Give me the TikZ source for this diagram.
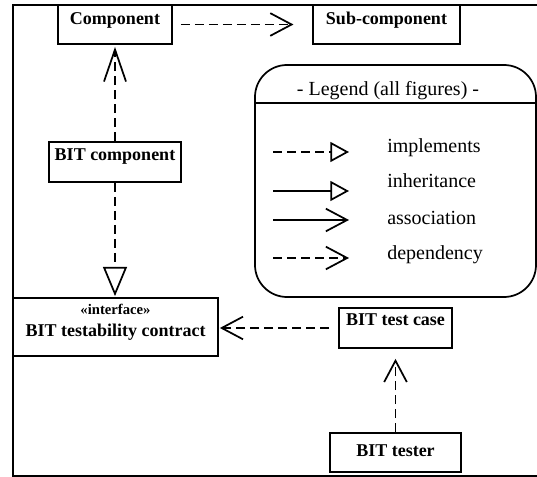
\documentclass[tikz,border=0pt]{standalone}
\usepackage{fontspec}
\setmainfont{Liberation Serif}
\usetikzlibrary{arrows.meta,fit}
\tikzset{
  box/.style={draw, line width=1.3pt, inner sep=0pt},
  boxtxt/.style={inner sep=0pt, anchor=base, font=\fontsize{13.5}{16}\selectfont\bfseries},
  stereo/.style={inner sep=0pt, anchor=base, font=\fontsize{11}{13}\selectfont\bfseries},
  legtxt/.style={inner sep=0pt, anchor=base west, font=\fontsize{15}{18}\selectfont},
  conn/.style={line width=1.3pt},
  dsh/.style={dash pattern=on 6.5pt off 4pt},
  dep/.style={conn, dsh, -{Straight Barb[length=16pt,width=17pt]}},
  impl/.style={conn, dsh, -{Triangle[open, fill=white, length=22pt, width=18pt]}},
  legdep/.style={conn, dsh, -{Straight Barb[length=16pt,width=17pt]}},
  legassoc/.style={conn, -{Straight Barb[length=16pt,width=17pt]}},
  legimpl/.style={conn, dsh, -{Triangle[open, fill=white, length=14pt, width=15pt]}},
  leginh/.style={conn, -{Triangle[open, fill=white, length=14pt, width=15pt]}},
}
\begin{document}
\begin{tikzpicture}[x=0.75pt, y=-0.75pt]
\useasboundingbox (0,0) rectangle (537,477);
% frame
\draw[line width=1.7pt] (537,5) -- (13,5) -- (13,476) -- (537,476);

% boxes
\node[box, fit={(58,5)(172,44)}] (comp) {};
\node[boxtxt] (compt) at (115,25) {Component};
\node[box, fit={(313,5)(460,44)}] (sub) {};
\node[boxtxt] (subt) at (386.5,25) {Sub-component};
\node[box, fit={(49,142)(181,182)}] (bitc) {};
\node[boxtxt] (bitct) at (115,161) {BIT component};
\node[box, fit={(13,298)(218,356)}] (contract) {};
\node[stereo] (contracts) at (115.5,315) {«interface»};
\node[boxtxt] (contractt) at (115.5,337) {BIT testability contract};
\node[box, fit={(339,308)(452,348)}] (tcase) {};
\node[boxtxt] (tcaset) at (395.5,326) {BIT test case};
\node[box, fit={(330,433)(461,472)}] (tester) {};
\node[boxtxt] (testert) at (395.5,457) {BIT tester};

% legend
\node[draw, line width=1.3pt, rounded corners=24pt, inner sep=0pt, fit={(255,65)(536,297)}] (legend) {};
\draw[line width=1.3pt] (legend.west |- 0,103) -- (legend.east |- 0,103);
\node[inner sep=0pt, anchor=base, font=\fontsize{15}{18}\selectfont] (legt) at (388,96) {- Legend (all figures) -};
\coordinate (l1a) at (273,152); \coordinate (l1b) at (349,152);
\coordinate (l2a) at (273,191); \coordinate (l2b) at (349,191);
\coordinate (l3a) at (273,220); \coordinate (l3b) at (349,220);
\coordinate (l4a) at (273,258); \coordinate (l4b) at (349,258);
\draw[legimpl] (l1a) -- (l1b);
\draw[leginh] (l2a) -- (l2b);
\draw[legassoc] (l3a) -- (l3b);
\draw[legdep] (l4a) -- (l4b);
\node[legtxt] (lt1) at (387,153) {implements};
\node[legtxt] (lt2) at (387,188) {inheritance};
\node[legtxt] (lt3) at (387,225) {association};
\node[legtxt] (lt4) at (387,260) {dependency};

% connectors
\draw[dep, shorten <=6pt, shorten >=14pt] (comp) -- (sub);
\draw[dep, -{Straight Barb[length=24pt,width=16.5pt]}, shorten >=1.5pt] (bitc.north) -- (bitc.north |- comp.south);
\draw[impl, shorten >=0.75pt] (bitc.south) -- (bitc.south |- contract.north);
\draw[dep, shorten <=6.75pt, shorten >=0.75pt] (tcase.west) -- (tcase.west -| contract.east);
\draw[dep, shorten >=7.5pt] (tester.north) -- (tester.north |- tcase.south);
\end{tikzpicture}
\end{document}
